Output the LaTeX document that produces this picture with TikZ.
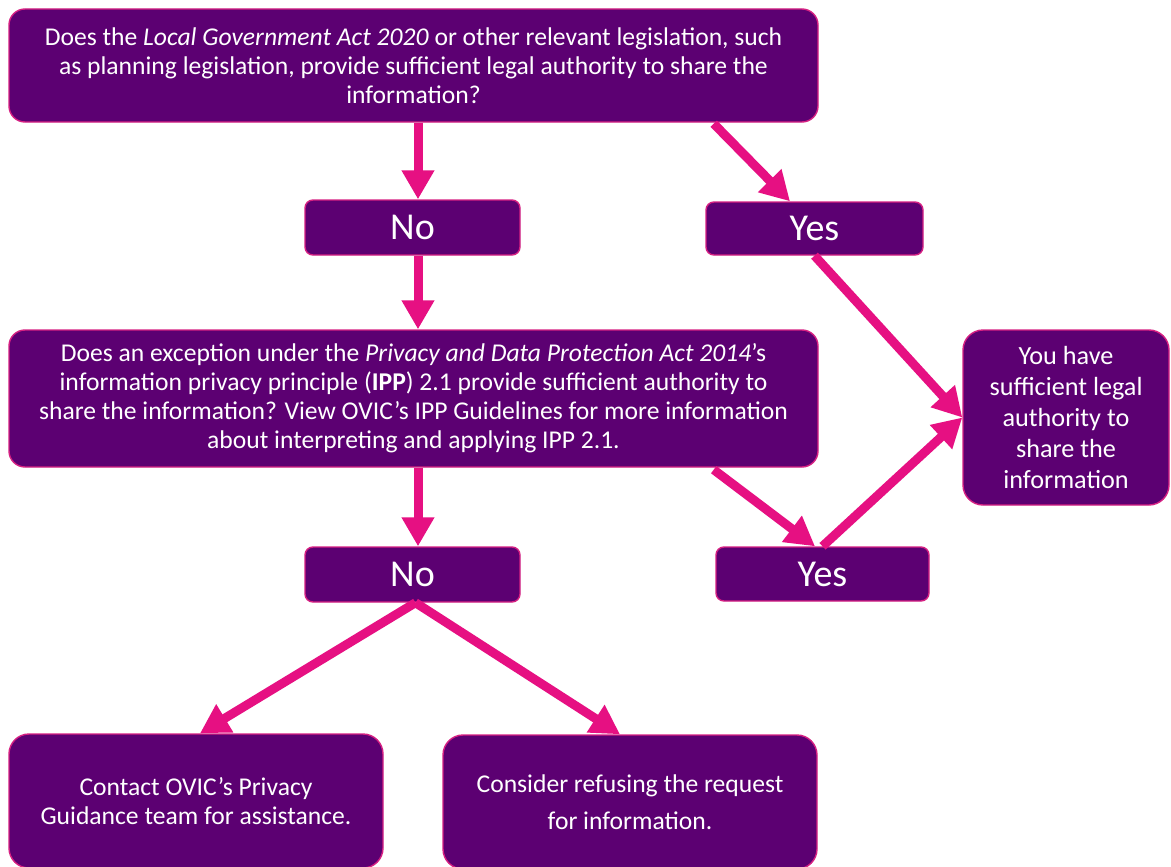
\documentclass[tikz,border=0pt]{standalone}
\usepackage{fontspec}
\setmainfont{Carlito}
\usetikzlibrary{arrows.meta}
\definecolor{boxfill}{RGB}{92,0,114}
\definecolor{boxline}{RGB}{214,32,130}
\definecolor{arrcol}{RGB}{230,16,130}
\tikzset{
  box/.style={draw=boxline, line width=1.4pt, fill=boxfill, text=white,
    rectangle, inner sep=0pt, align=center, font=\fontsize{25.6}{29}\selectfont},
  answer/.style={box, rounded corners=8pt, font=\fontsize{38}{42}\selectfont},
  arr/.style={draw=arrcol, line width=9pt, -{Triangle[length=29pt,width=31pt]}},
}
\begin{document}
\begin{tikzpicture}[x=1pt,y=-1pt]
\useasboundingbox (0,0) rectangle (1171,867);
\clip (0,0) rectangle (1171,867);
\fill[white] (0,0) rectangle (1171,867);

\node[box, rounded corners=16pt, minimum width=809pt, minimum height=113pt] (top) at (413.5,65.5)
  {Does the \textit{Local Government Act 2020} or other relevant legislation, such\\
   as planning legislation, provide sufficient legal authority to share the\\
   information?};
\node[answer, minimum width=215pt, minimum height=55pt] (no1) at (412.5,227.5) {No};
\node[answer, minimum width=217pt, minimum height=53pt] (yes1) at (814.5,228.5) {Yes};
\node[box, rounded corners=16pt, minimum width=809pt, minimum height=137pt] (mid) at (413.5,398.5)
  {Does an exception under the \textit{Privacy and Data Protection Act 2014}’s\\
   information privacy principle (\textbf{IPP}) 2.1 provide sufficient authority to\\
   share the information? View OVIC’s IPP Guidelines for more information\\
   about interpreting and applying IPP 2.1.};
\node[box, rounded corners=20pt, minimum width=206pt, minimum height=175pt,
  font=\fontsize{26.2}{31}\selectfont] (res) at (1066,417.5)
  {You have\\ sufficient legal\\ authority to\\ share the\\ information};
\node[answer, minimum width=215pt, minimum height=55pt] (no2) at (412.5,574.5) {No};
\node[answer, minimum width=213pt, minimum height=54pt] (yes2) at (822.5,574) {Yes};
\node[box, rounded corners=20pt, minimum width=374pt, minimum height=134pt,
  font=\fontsize{25.6}{29}\selectfont] (bl) at (196,801)
  {Contact OVIC’s Privacy\\ Guidance team for assistance.};
\node[box, rounded corners=20pt, minimum width=374pt, minimum height=134pt,
  font=\fontsize{25.6}{37}\selectfont] (br) at (630,802)
  {Consider refusing the request\\ for information.};

\draw[arr] ([xshift=5.5pt]no1.north |- top.south) -- ([xshift=5.5pt]no1.north);
\draw[arr] ([xshift=-105pt,yshift=-1pt]top.south east) -- ([xshift=-24.5pt]yes1.north);
\draw[arr] ([xshift=5.5pt]no1.south) -- ([xshift=5.5pt]no1.south |- mid.north);
\draw[arr] (yes1.south) -- (res.west);
\draw[arr] ([xshift=5.5pt]no2.north |- mid.south) -- ([xshift=5.5pt]no2.north);
\draw[arr] ([xshift=-105pt,yshift=-2pt]mid.south east) -- ([xshift=-7.5pt]yes2.north);
\draw[arr] (yes2.north) -- (res.west);
\draw[arr] ([xshift=3pt]no2.south) -- ([xshift=4pt]bl.north);
\draw[arr] ([xshift=3pt]no2.south) -- ([xshift=-10pt]br.north);
\end{tikzpicture}
\end{document}
